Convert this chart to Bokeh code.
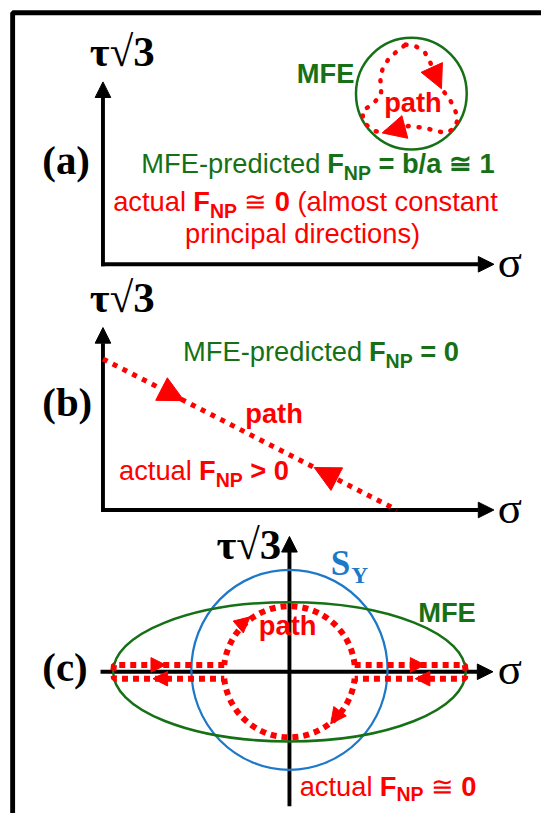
import numpy as np
from bokeh.plotting import figure
from bokeh.models import Range1d, Arrow, NormalHead, ColumnDataSource
from bokeh.embed import file_html
from bokeh.resources import INLINE

# ---------------- data (panel units: sigma, tau*sqrt(3)) ----------------
# panel (a): MFE circle and the closed loading path
a_mfe_sigma, a_mfe_tau, a_mfe_radius = 3.175, 1.74, 0.57
a_path_sigma = [3.115, 3.225, 3.315, 3.405, 3.485, 3.565, 3.615, 3.655, 3.625, 3.535,
                3.425, 3.325, 3.145, 2.875, 2.795, 2.715, 2.675, 2.675, 2.775, 2.865,
                2.855, 2.885, 2.945, 3.025, 3.115]
a_path_tau = [2.24, 2.22, 2.16, 1.99, 1.79, 1.69, 1.60, 1.49, 1.39, 1.34,
              1.36, 1.39, 1.41, 1.34, 1.36, 1.42, 1.47, 1.57, 1.63, 1.73,
              1.91, 2.01, 2.10, 2.17, 2.24]
a_arrow_pairs = [(2, 4), (12, 13)]          # (tail index, tip index) on the path
a_axis_sigma_max, a_axis_tau_max = 4.025, 1.86

# panel (b): straight path from pure shear to tension
b_path_sigma = [0.0, 3.025]
b_path_tau = [1.54, 0.0]
b_arrow_tip_sigma = [0.835, 2.175]
b_arrow_dir = [1, -1]
b_axis_sigma_max, b_axis_tau_max = 4.025, 1.86

# panel (c): yield surface S_Y, MFE ellipse, path
c_sy_width, c_sy_height, c_sy_tau = 2.02, 2.04, 0.02
c_mfe_a, c_mfe_b = 1.815, 0.71
c_path_r, c_path_leg = 0.675, 0.07
c_harrow_tip_sigma = [-1.275, -1.405, 1.395, 1.295]
c_harrow_tau = [0.07, -0.07, 0.07, -0.07]
c_harrow_dir = [1, -1, 1, -1]
c_arc_arrow_tail = [(-0.535, 0.45), (0.515, -0.41)]
c_arc_arrow_tip = [(-0.405, 0.56), (0.425, -0.53)]
c_axis_sigma = (-1.945, 2.095)
c_axis_tau = (-1.37, 1.38)

# ---------------- styling / layout ----------------
RED = "#ff0000"
GREEN = "#167016"
BLUE = "#1e78c8"
W, H = 541, 813
X0, X1, Y0, Y1 = 0, 557, 0, 829      # reference-pixel extent shown by the figure
K = 0.975                            # screen px per reference px (for sizes)
S = 100.0                            # reference pixels per panel unit
SANS = "Liberation Sans"
SERIF = "Liberation Serif"
BASE_SHIFT = {SANS: 0.32, SERIF: 0.40}   # compensation of the rendered baseline offset (em)
origins = {"a": (105.5, 269.0), "b": (105.5, 519.5), "c": (297.5, 684.5)}

p = figure(width=W, height=H, output_backend="svg", toolbar_location=None,
           x_range=Range1d(X0, X1), y_range=Range1d(Y1, Y0),
           x_axis_location=None, y_axis_location=None, min_border=0,
           outline_line_color=None, background_fill_color="white",
           border_fill_color="white")
p.grid.visible = False

for k, (ox, oy) in origins.items():
    p.extra_x_ranges[k] = Range1d((X0 - ox) / S, (X1 - ox) / S)
    p.extra_y_ranges[k] = Range1d((oy - Y1) / S, (oy - Y0) / S)

# outer frame
p.line([12.5, 12.5, X1], [Y1, 12.5, 12.5], line_color="black", line_width=5 * K)


def axis_arrow(rng, xs, ys, xe, ye):
    p.add_layout(Arrow(end=NormalHead(size=16 * K, fill_color="black", line_color="black", line_width=1),
                       x_start=xs, y_start=ys, x_end=xe, y_end=ye, line_width=4 * K,
                       line_color="black", x_range_name=rng, y_range_name=rng, level="underlay"))


def head(rng, xs, ys, xe, ye, size):
    p.add_layout(Arrow(end=NormalHead(size=size * K, fill_color=RED, line_color=RED, line_width=1),
                       x_start=xs, y_start=ys, x_end=xe, y_end=ye, line_alpha=0, line_width=1,
                       x_range_name=rng, y_range_name=rng))


# ---- panel (a)
axis_arrow("a", 0, -0.02, 0, a_axis_tau_max)
axis_arrow("a", -0.02, 0, a_axis_sigma_max, 0)
p.ellipse(x=[a_mfe_sigma], y=[a_mfe_tau], width=2 * a_mfe_radius, height=2 * a_mfe_radius,
          fill_color=None, line_color=GREEN, line_width=2.5, x_range_name="a", y_range_name="a")
p.line(a_path_sigma, a_path_tau, line_color=RED, line_width=4.5, line_dash="1 10",
       line_cap="round", x_range_name="a", y_range_name="a")
for i0, i1 in a_arrow_pairs:
    head("a", a_path_sigma[i0], a_path_tau[i0], a_path_sigma[i1], a_path_tau[i1], 24)

# ---- panel (b)
axis_arrow("b", 0, -0.02, 0, b_axis_tau_max)
axis_arrow("b", -0.02, 0, b_axis_sigma_max, 0)
p.line(b_path_sigma, b_path_tau, line_color=RED, line_width=5, line_dash="5 6",
       x_range_name="b", y_range_name="b")
for s_tip, d in zip(b_arrow_tip_sigma, b_arrow_dir):
    s_tail = s_tip - 0.3 * d
    head("b", s_tail, float(np.interp(s_tail, b_path_sigma, b_path_tau)),
         s_tip, float(np.interp(s_tip, b_path_sigma, b_path_tau)), 26)

# ---- panel (c)
axis_arrow("c", c_axis_sigma[0], 0, c_axis_sigma[1], 0)
axis_arrow("c", 0, c_axis_tau[0], 0, c_axis_tau[1])
p.ellipse(x=[0], y=[c_sy_tau], width=c_sy_width, height=c_sy_height, fill_color=None,
          line_color=BLUE, line_width=2.2, x_range_name="c", y_range_name="c")
p.ellipse(x=[0], y=[0], width=2 * c_mfe_a, height=2 * c_mfe_b, fill_color=None,
          line_color=GREEN, line_width=2.5, x_range_name="c", y_range_name="c")
leg_out = c_mfe_a * np.sqrt(1 - (c_path_leg / c_mfe_b) ** 2)
leg_in = np.sqrt(c_path_r ** 2 - c_path_leg ** 2)
p.multi_line(xs=[[-leg_in, -leg_out, -c_mfe_a, -leg_out, -leg_in],
                 [leg_in, leg_out, c_mfe_a, leg_out, leg_in]],
             ys=[[c_path_leg, c_path_leg, 0, -c_path_leg, -c_path_leg]] * 2,
             line_color=RED, line_width=6, line_dash="6 5", x_range_name="c", y_range_name="c")
ang = float(np.degrees(np.arcsin(c_path_leg / c_path_r)))
p.arc(x=[0, 0], y=[0, 0], radius=c_path_r, start_angle=[ang, 180 + ang],
      end_angle=[180 - ang, 360 - ang], start_angle_units="deg", end_angle_units="deg",
      line_color=RED, line_width=6, line_dash="6 5", x_range_name="c", y_range_name="c")
for s_tip, t, d in zip(c_harrow_tip_sigma, c_harrow_tau, c_harrow_dir):
    head("c", s_tip - 0.15 * d, t, s_tip, t, 15)
for (xs, ys), (xe, ye) in zip(c_arc_arrow_tail, c_arc_arrow_tip):
    head("c", xs, ys, xe, ye, 16)

# ---------------- texts ----------------
HN = {' ': 278, '(': 333, ')': 333, '-': 333, '/': 278, '0': 556, '1': 556, '=': 584, '>': 584,
      '≅': 838, 'E': 667, 'F': 611, 'M': 833, 'N': 722, 'P': 667, 'a': 556, 'b': 556, 'c': 500,
      'd': 556, 'e': 556, 'h': 556, 'i': 222, 'l': 222, 'm': 833, 'n': 556, 'o': 556, 'p': 556,
      'r': 333, 's': 500, 't': 278, 'u': 556}
HB = dict(HN, b=611, h=611, p=611, t=333, c=556, d=611, e=556, i=278, l=278, n=611, o=611, r=389,
          s=556, u=611)

T = dict(x=[], y=[], text=[], font=[], size=[], style=[], color=[], align=[])


def put(x, y, text, font, size, style, color, align="left"):
    T["x"].append(x); T["y"].append(y - BASE_SHIFT[font] * size); T["text"].append(text)
    T["font"].append(font); T["size"].append(f"{size * K:.1f}px"); T["style"].append(style)
    T["color"].append(color); T["align"].append(align)


def rich(x, y, segs, color, size=28, sub=20, drop=7):
    for txt, bold, is_sub in segs:
        fs = sub if is_sub else size
        tab = HB if bold else HN
        lead = len(txt) - len(txt.lstrip(" "))
        x += lead * tab[' '] / 1000.0 * fs
        body = txt.strip(" ")
        put(x, y + (drop if is_sub else 0), body, SANS, fs, "bold" if bold else "normal", color)
        x += sum(tab.get(ch, 556) for ch in txt[lead:]) / 1000.0 * fs


rich(145, 175, [("MFE-predicted ", 0, 0), ("F", 1, 0), ("NP", 1, 1), (" = b/a ≅ 1", 1, 0)], GREEN)
rich(116, 214, [("actual ", 0, 0), ("F", 1, 0), ("NP", 1, 1), (" ≅ ", 0, 0), ("0", 1, 0),
                (" (almost constant", 0, 0)], RED)
rich(190, 247, [("principal directions)", 0, 0)], RED)
rich(188, 367, [("MFE-predicted ", 0, 0), ("F", 1, 0), ("NP", 1, 1), (" = 0", 1, 0)], GREEN)
rich(122, 488, [("actual ", 0, 0), ("F", 1, 0), ("NP", 1, 1), (" > 0", 1, 0)], RED)
rich(308, 810, [("actual ", 0, 0), ("F", 1, 0), ("NP", 1, 1), (" ≅ ", 0, 0), ("0", 1, 0)], RED,
     drop=6)

for x, y in [(395, 113), (252, 430), (266, 646)]:
    put(x, y, "path", SANS, 28, "bold", RED)
for x, y in [(305, 83), (430, 633)]:
    put(x, y, "MFE", SANS, 28, "bold", GREEN)
for x, y, t in [(43, 180, "(a)"), (43, 427, "(b)"), (43, 697, "(c)")]:
    put(x, y, t, SERIF, 42, "bold", "black")
put(92, 70, "τ√3", SERIF, 44, "bold", "black")
put(92, 320, "τ√3", SERIF, 44, "bold", "black")
put(289, 572, "τ√3", SERIF, 44, "bold", "black", "right")
for k in "abc":
    put(512, origins[k][1] + 16, "σ", SERIF, 46, "normal", "black")
put(340, 588, "S", SERIF, 36, "bold", BLUE)
put(361, 595, "Y", SERIF, 24, "bold", BLUE)

src = ColumnDataSource(T)
p.text(x="x", y="y", text="text", text_font="font", text_font_size="size",
       text_font_style="style", text_color="color", text_align="align",
       text_baseline="alphabetic", source=src)

open("out.html", "w").write(file_html(p, INLINE))
